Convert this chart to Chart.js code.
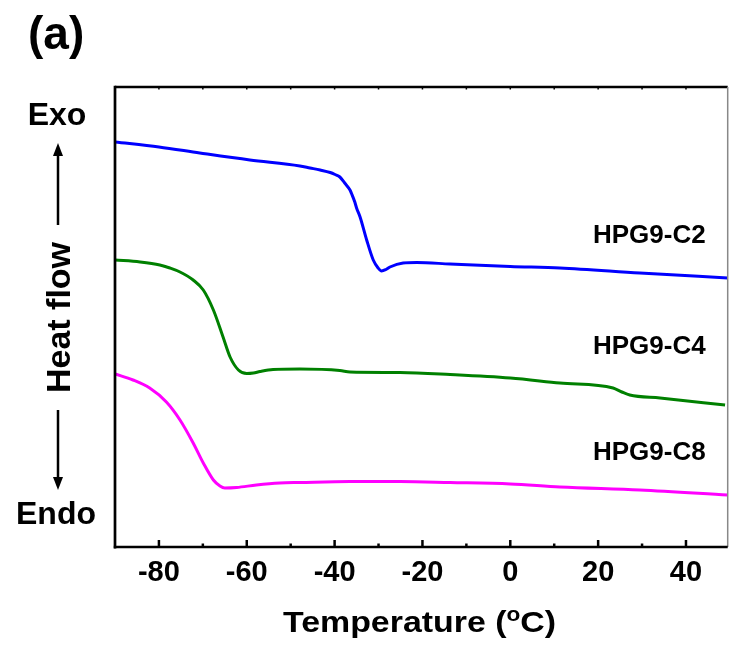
<!DOCTYPE html>
<html>
<head>
<meta charset="utf-8">
<script src="https://cdn.jsdelivr.net/npm/chart.js@4.4.1/dist/chart.umd.min.js"></script>
<style>
  body { margin: 0; background: #fff; }
  canvas { display: block; }
</style>
</head>
<body>
<canvas id="dscChart" width="729" height="647"></canvas>
<script>
// DSC heating curves, heat flow in arbitrary units (curves offset vertically)
const xTicks = [-80, -60, -40, -20, 0, 20, 40];

const c2Temp = [-90, -80, -70.7, -59.3, -47.9, -45.6, -43.3, -41.0, -39.9, -38.8, -37.7, -36.5, -36.1, -35.4, -35.0, -34.2, -32.7, -31.2, -30.1, -29.3, -28.3, -27.4, -24.4, -21.3, -13.7, 0, 11.3, 29.5, 49.5];
const c2Flow = [4.05, 4.00, 3.94, 3.87, 3.81, 3.79, 3.77, 3.745, 3.725, 3.70, 3.64, 3.57, 3.53, 3.45, 3.39, 3.30, 3.07, 2.87, 2.79, 2.76, 2.775, 2.80, 2.84, 2.845, 2.83, 2.805, 2.79, 2.74, 2.69];

const c4Temp = [-90, -84.3, -79.8, -77.5, -75.2, -72.2, -69.9, -67.6, -65.4, -63.8, -61.9, -60.0, -58.5, -57.0, -54.0, -47.9, -38.8, -36.5, -25.1, -13.7, 0, 11.3, 23.4, 25.4, 27.2, 34.1, 48.9];
const c4Flow = [2.87, 2.85, 2.82, 2.79, 2.75, 2.67, 2.57, 2.37, 2.10, 1.90, 1.77, 1.735, 1.74, 1.755, 1.775, 1.78, 1.765, 1.75, 1.745, 1.725, 1.69, 1.64, 1.59, 1.55, 1.52, 1.49, 1.42];

const c8Temp = [-90, -85.9, -82.1, -78.3, -75.2, -72.2, -69.9, -67.6, -66.1, -65.0, -62.3, -57.8, -52.5, -47.9, -36.5, -25.1, -13.7, 0, 11.3, 29.5, 49.5];
const c8Flow = [1.73, 1.67, 1.59, 1.45, 1.27, 1.04, 0.84, 0.67, 0.61, 0.59, 0.595, 0.62, 0.64, 0.645, 0.655, 0.655, 0.645, 0.63, 0.60, 0.57, 0.52];

const seriesNames = ['HPG9-C2', 'HPG9-C4', 'HPG9-C8'];
const seriesColors = ['#0000ff', '#008000', '#ff00ff'];

const FONT = "'Liberation Sans', Arial, sans-serif";
Chart.defaults.font.family = FONT;

function pts(xs, ys) { return xs.map((x, i) => ({ x: x, y: ys[i] })); }

function line(ctx, x1, y1, x2, y2, w, c) {
    ctx.beginPath();
    ctx.lineWidth = w;
    ctx.strokeStyle = c;
    ctx.moveTo(x1, y1);
    ctx.lineTo(x2, y2);
    ctx.stroke();
}

function arrowHead(ctx, x, tipY, dir) {
    // dir -1 = pointing up, 1 = pointing down
    ctx.beginPath();
    ctx.moveTo(x, tipY);
    ctx.lineTo(x - 5, tipY - dir * 13);
    ctx.lineTo(x + 5, tipY - dir * 13);
    ctx.closePath();
    ctx.fillStyle = '#000';
    ctx.fill();
}

const decorations = {
    id: 'decorations',
    afterDraw(chart) {
        const ctx = chart.ctx;
        const a = chart.chartArea;
        const xs = chart.scales.x;
        ctx.save();

        // frame
        line(ctx, a.left, a.top, a.right, a.top, 2.5, '#000');
        line(ctx, a.right, a.top, a.right, a.bottom, 1.5, '#888');
        line(ctx, a.left, a.top - 1.2, a.left, a.bottom + 1.5, 2.7, '#000');
        line(ctx, a.left - 1.2, a.bottom, a.right, a.bottom, 2.7, '#000');

        // inward ticks
        for (let v = -80; v <= 40; v += 10) {
            const px = xs.getPixelForValue(v);
            const major = xTicks.includes(v);
            line(ctx, px, a.bottom, px, a.bottom - (major ? 7 : 3.5), 2.5, '#000');
            line(ctx, px, a.top, px, a.top + 2.5, 1.5, '#000');
        }

        ctx.fillStyle = '#000';
        ctx.textAlign = 'left';
        ctx.textBaseline = 'alphabetic';

        // series labels
        ctx.font = 'bold 26px ' + FONT;
        ctx.fillText(seriesNames[0], 593, 243);
        ctx.fillText(seriesNames[1], 593, 354);
        ctx.fillText(seriesNames[2], 593, 460);

        // panel label
        ctx.font = 'bold 46px ' + FONT;
        ctx.fillText('(a)', 28, 49);

        // y annotation
        ctx.textAlign = 'center';
        ctx.font = 'bold 32px ' + FONT;
        ctx.fillText('Exo', 57, 125);
        ctx.fillText('Endo', 56, 524);
        arrowHead(ctx, 58, 143, -1);
        line(ctx, 58, 154, 58, 225, 2.5, '#000');
        line(ctx, 58, 410, 58, 480, 2.5, '#000');
        arrowHead(ctx, 58, 490, 1);
        ctx.save();
        ctx.translate(70, 317.5);
        ctx.rotate(-Math.PI / 2);
        ctx.font = 'bold 34px ' + FONT;
        ctx.fillText('Heat flow', 0, 0);
        ctx.restore();

        // x title with superscript o
        const base = 632, left = 283, target = 273;
        ctx.textAlign = 'left';
        const p1 = 'Temperature (', p3 = 'C)';
        ctx.font = 'bold 30px ' + FONT;
        const w1 = ctx.measureText(p1).width, w3 = ctx.measureText(p3).width;
        ctx.font = 'bold 20px ' + FONT;
        const w2 = ctx.measureText('o').width;
        const sx = target / (w1 + w2 + w3);
        ctx.save();
        ctx.translate(left, base);
        ctx.scale(sx, 1);
        ctx.font = 'bold 30px ' + FONT;
        ctx.fillText(p1, 0, 0);
        ctx.font = 'bold 20px ' + FONT;
        ctx.fillText('o', w1, -11);
        ctx.font = 'bold 30px ' + FONT;
        ctx.fillText(p3, w1 + w2, 0);
        ctx.restore();

        ctx.restore();
    }
};

new Chart(document.getElementById('dscChart'), {
    type: 'line',
    data: {
        datasets: [
            { label: seriesNames[0], data: pts(c2Temp, c2Flow), borderColor: seriesColors[0] },
            { label: seriesNames[1], data: pts(c4Temp, c4Flow), borderColor: seriesColors[1] },
            { label: seriesNames[2], data: pts(c8Temp, c8Flow), borderColor: seriesColors[2] }
        ]
    },
    options: {
        responsive: false,
        animation: false,
        events: [],
        layout: { padding: { left: 115, right: 1.3, top: 87, bottom: 0 } },
        elements: {
            point: { radius: 0 },
            line: { borderWidth: 3, cubicInterpolationMode: 'monotone', fill: false }
        },
        plugins: { legend: { display: false }, tooltip: { enabled: false } },
        scales: {
            x: {
                type: 'linear',
                min: -90,
                max: 49.5,
                grid: { display: false, drawTicks: false },
                border: { display: false },
                afterBuildTicks: s => { s.ticks = xTicks.map(v => ({ value: v })); },
                afterFit: s => { s.height = 100; },
                ticks: {
                    color: '#000',
                    padding: 9,
                    maxRotation: 0,
                    autoSkip: false,
                    font: { size: 29, weight: 'bold' }
                }
            },
            y: { display: false, min: 0, max: 4.6 }
        }
    },
    plugins: [decorations]
});
</script>
</body>
</html>
